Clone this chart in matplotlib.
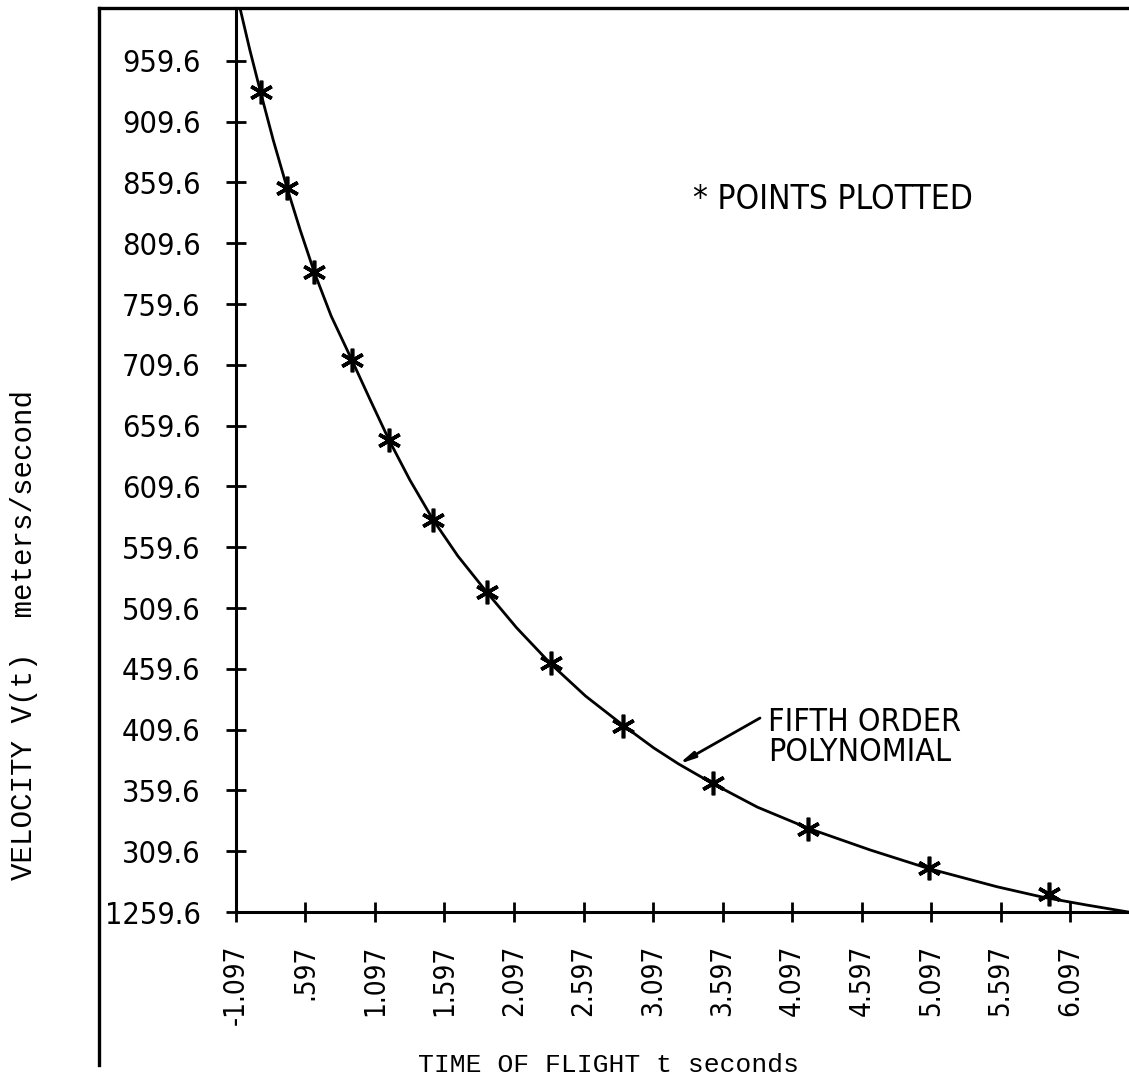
import matplotlib.pyplot as plt
from matplotlib.lines import Line2D

# VALUES
# star points (time of flight t, velocity v)
points_t = [0.277, 0.466, 0.660, 0.929, 1.198, 1.514, 1.903, 2.363, 2.883, 3.527, 4.214, 5.079, 5.946]
points_v = [933.9, 855.0, 785.9, 713.5, 647.8, 582.0, 522.8, 464.4, 412.8, 365.4, 327.9, 295.4, 274.4]

# fifth order polynomial curve
curve_t = [0.126, 0.197, 0.274, 0.365, 0.465, 0.559, 0.660, 0.782, 0.931, 1.063,
           1.198, 1.348, 1.516, 1.693, 1.900, 2.117, 2.363, 2.612, 2.888, 3.103,
           3.282, 3.524, 3.847, 4.215, 4.660, 5.075, 5.571, 5.897, 6.214, 6.516]
curve_v = [1003.0, 968.5, 933.9, 894.5, 855.0, 820.5, 785.9, 749.7, 713.5, 680.7,
           647.8, 614.9, 582.0, 552.4, 522.8, 493.2, 463.5, 437.2, 412.6, 394.5,
           381.3, 365.4, 345.9, 328.4, 310.6, 295.5, 280.4, 271.9, 265.4, 259.6]

# tick values and the labels as printed on the figure
xticks = [0.097, 0.597, 1.097, 1.597, 2.097, 2.597, 3.097, 3.597, 4.097, 4.597, 5.097, 5.597, 6.097]
xlabels = ["-1.097", ".597", "1.097", "1.597", "2.097", "2.597", "3.097",
           "3.597", "4.097", "4.597", "5.097", "5.597", "6.097"]
yticks = [259.6, 309.6, 359.6, 409.6, 459.6, 509.6, 559.6, 609.6,
          659.6, 709.6, 759.6, 809.6, 859.6, 909.6, 959.6]
ylabels = ["1259.6", "309.6", "359.6", "409.6", "459.6", "509.6", "559.6", "609.6",
           "659.6", "709.6", "759.6", "809.6", "859.6", "909.6", "959.6"]

# point on the curve where the label arrow ends
arrow_t = 3.282
arrow_v = 381.3

plotter_font = ["DejaVu Sans"]
mono_font = ["Liberation Mono", "DejaVu Sans Mono"]

# FIGURE
fig = plt.figure(figsize=(11.29, 10.76), dpi=100)
ax = fig.add_axes([0.2090, 0.1524, 0.7910, 0.8401])

ax.plot(curve_t, curve_v, color="black", linewidth=2.0, zorder=2)
ax.plot(points_t, points_v, linestyle="none", marker=(6, 2, 0), markersize=17,
        markeredgewidth=2.6, color="black", zorder=3)

ax.set_xlim(0.097, 6.521)
ax.set_ylim(259.6, 1003.0)

# AXES AND TICKS
for side in ["top", "right"]:
    ax.spines[side].set_visible(False)
for side in ["left", "bottom"]:
    ax.spines[side].set_linewidth(2.2)

ax.set_xticks(xticks)
ax.set_xticklabels(xlabels, rotation=90, fontsize=20, family=plotter_font,
                   fontstretch="condensed")
ax.set_yticks(yticks)
ax.set_yticklabels(ylabels, fontsize=22, family=plotter_font, fontstretch="condensed")
ax.tick_params(axis="both", direction="inout", length=15, width=2)
ax.tick_params(axis="x", pad=16)
ax.tick_params(axis="y", pad=18)

# TEXTS
ax.text(0.5118, 0.7887, "* POINTS PLOTTED", transform=ax.transAxes,
        ha="left", va="center", fontsize=24, family=plotter_font, fontstretch="condensed")

ax.text(0.5958, 0.193, "FIFTH ORDER\nPOLYNOMIAL", transform=ax.transAxes,
        ha="left", va="center", fontsize=23, family=plotter_font, fontstretch="condensed",
        linespacing=0.95)
ax.annotate("", xy=(arrow_t, arrow_v), xycoords="data",
            xytext=(0.5868, 0.2146), textcoords="axes fraction",
            arrowprops=dict(arrowstyle="-|>,head_length=0.9,head_width=0.18",
                            color="black", lw=2, shrinkA=0, shrinkB=0))

fig.text(608 / 1129, 1 - 1065 / 1076, "TIME OF FLIGHT t seconds",
         ha="center", va="center", fontsize=19, family=mono_font)
fig.text(24 / 1129, 1 - 635 / 1076, "VELOCITY V(t)  meters/second", rotation=90,
         ha="center", va="center", fontsize=21, family=mono_font)

# OUTER FRAME LINES
fig.add_artist(Line2D([99 / 1129, 1.0], [1 - 8 / 1076, 1 - 8 / 1076],
                      transform=fig.transFigure, color="black", linewidth=2.4))
fig.add_artist(Line2D([99 / 1129, 99 / 1129], [1 - 8 / 1076, 1 - 1065 / 1076],
                      transform=fig.transFigure, color="black", linewidth=2.4))

fig.savefig("out.png", dpi=100)
